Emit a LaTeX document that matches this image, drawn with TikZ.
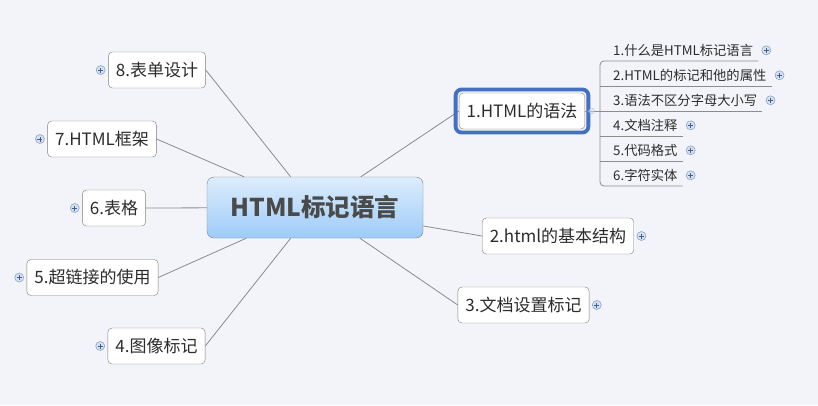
\documentclass[tikz,border=0pt]{standalone}
\usepackage{fontspec}
\setmainfont{Noto Sans CJK SC}
\definecolor{bg}{HTML}{F2F4F9}
\definecolor{linegray}{HTML}{8C8C8C}
\definecolor{boxgray}{HTML}{7F7F7F}
\definecolor{txt}{HTML}{2C2C2C}
\definecolor{roottxt}{HTML}{4A4A4A}
\definecolor{roottop}{HTML}{DDEDFD}
\definecolor{rootbot}{HTML}{9DCBF8}
\definecolor{frameblue}{HTML}{4470C4}
\definecolor{plusedge}{HTML}{8FA5C7}
\definecolor{plusfill}{HTML}{D5E0F0}
\definecolor{plusmark}{HTML}{3F5F93}
\begin{document}
\begin{tikzpicture}[x=1pt,y=-1pt,
    branch/.style={draw=linegray, line width=0.8pt},
    topic/.style={draw=boxgray, fill=white, rounded corners=4pt, text=txt,
        font=\fontsize{17}{20}\selectfont, inner xsep=7.5pt, minimum height=36pt},
    sub/.style={anchor=south west, inner xsep=5pt, inner ysep=0pt, minimum height=21pt,
        text=txt, font=\fontsize{13.3}{16}\selectfont},
    plus/.style={circle, draw=plusedge, fill=plusfill, minimum size=9pt, inner sep=0pt,
        line width=0.6pt,
        path picture={\draw[plusmark, line width=0.8pt]
            ([xshift=-2.5pt]path picture bounding box.center) -- ([xshift=2.5pt]path picture bounding box.center)
            ([yshift=-2.5pt]path picture bounding box.center) -- ([yshift=2.5pt]path picture bounding box.center);}}]
    \fill[bg] (0,0) rectangle (818,405);
    % main topic
    \node[draw=boxgray, rounded corners=7pt, top color=roottop, bottom color=rootbot,
        minimum width=216pt, minimum height=61pt, text=roottxt,
        font=\fontsize{24.5}{28}\selectfont\bfseries] (root) at (315,207.5) {HTML标记语言};
    % branches
    \foreach \n/\x/\y/\txt in {t1/522/111/{1.HTML的语法}, t2/558/236/{2.html的基本结构},
        t3/523.5/305/{3.文档设置标记}, t4/156.5/346/{4.图像标记}, t5/92.5/277.5/{5.超链接的使用},
        t6/114/208/{6.表格}, t7/102/139/{7.HTML框架}, t8/157/70/{8.表单设计}}
        \node[topic] (\n) at (\x,\y) {\txt};
    \foreach \n in {t4,t5,t6,t7,t8}
        \node[plus] (p\n) at ([xshift=-7.5pt]\n.west) {};
    \foreach \n in {t2,t3}
        \node[plus] (p\n) at ([xshift=7.5pt]\n.east) {};
    \draw[branch] (root) -- (t1.west);
    \draw[branch] (root) -- (t2.west);
    \draw[branch] (root) -- (t3.west);
    \foreach \n in {t4,t5,t6,t7,t8}
        \draw[branch] (root) -- (\n.east);
    \draw[frameblue, line width=3.8pt, rounded corners=6pt]
        ([shift={(-3.3pt,3.3pt)}]t1.north west) rectangle ([shift={(3.3pt,-3.3pt)}]t1.south east);
    % sub topics of t1
    \foreach \i/\y/\txt in {1/61/{1.什么是HTML标记语言}, 2/86/{2.HTML的标记和他的属性},
        3/111/{3.语法不区分字母大小写}, 4/136/{4.文档注释}, 5/161/{5.代码格式}, 6/186/{6.字符实体}}
    {
        \node[sub] (s\i) at (608,\y) {\txt};
        \node[plus] (ps\i) at ([xshift=8pt]s\i.east) {};
    }
    \draw[branch, rounded corners=4pt] (s1.south east) -- ([xshift=-8pt]s1.south west)
        -- ([xshift=-8pt]s6.south west) -- (s6.south east);
    \foreach \i in {2,...,5}
        \draw[branch] ([xshift=-8pt]s\i.south west) -- (s\i.south east);
    \draw[branch] (t1.east) -- ([xshift=-8pt]s3.south west);
    \node[circle, draw=plusedge, fill=plusfill, minimum size=6pt, inner sep=0pt,
        opacity=0.5, line width=0.5pt] (fold) at ([xshift=6.5pt]t1.east) {};
\end{tikzpicture}
\end{document}
